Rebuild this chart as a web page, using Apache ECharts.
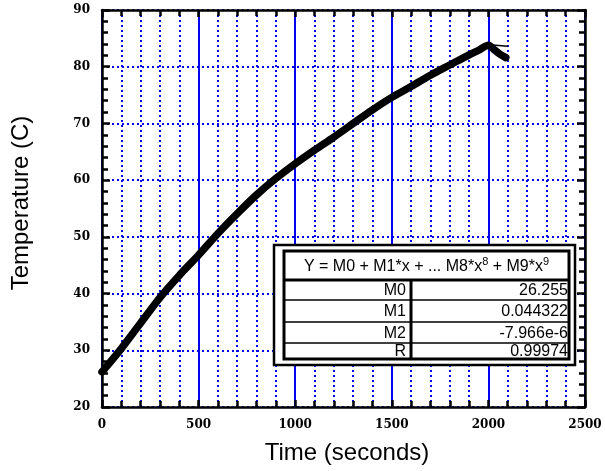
<!DOCTYPE html>
<html><head><meta charset="utf-8">
<script src="https://cdn.jsdelivr.net/npm/echarts@6/dist/echarts.min.js"></script>
<style>html,body{margin:0;padding:0;background:#fff}#c{width:605px;height:471px}</style>
</head><body><div id="c"></div>
<script>
const timeS = [0,100,200,300,400,500,600,700,800,900,1000,1100,1200,1300,1400,1500,1600,1700,1800,1900,1950,2000,2030,2060,2090];
const tempC = [26.2,30.3,34.8,39.3,43.2,46.8,50.6,54.1,57.4,60.3,62.9,65.3,67.6,70.0,72.4,74.6,76.5,78.5,80.3,82.1,82.9,83.8,83.0,82.2,81.6];
const fitTime = [1990,2100];
const fitTemp = [83.9,83.6];
const xTicks = [0,500,1000,1500,2000,2500];
const yTicks = [20,30,40,50,60,70,80,90];
const tableTitle = 'Y = M0 + M1*x + ... M8*x{s|8} + M9*x{s|9}';
const rowNames = ['M0','M1','M2','R'];
const rowValues = ['26.255','0.044322','-7.966e-6','0.99974'];

const chart = echarts.init(document.getElementById('c'));
const blue = '#0000f0';
const tickFont = {fontFamily:'DejaVu Serif', fontWeight:'bold', fontSize:12, color:'#000'};
function xAx(pos, labels){
  return {type:'value', position:pos, min:xTicks[0], max:xTicks[xTicks.length-1], interval:500,
    axisLine:{show:true, onZero:false, lineStyle:{color:'#000', width:2.5}},
    axisTick:{show:true, inside:true, length:7, lineStyle:{color:'#000', width:2.5}},
    minorTick:{show:true, splitNumber:5, length:6, lineStyle:{color:'#000', width:2.5}},
    axisLabel:Object.assign({show:labels, margin:12, formatter:v=>String(v)}, tickFont),
    splitLine:{show:labels, lineStyle:{color:blue, width:2}},
    minorSplitLine:{show:labels, lineStyle:{color:blue, width:2, type:[2,3]}}
  };
}
function yAx(pos, labels){
  return {type:'value', position:pos, min:yTicks[0], max:yTicks[yTicks.length-1], interval:10,
    axisLine:{show:true, onZero:false, lineStyle:{color:'#000', width:2.5}},
    axisTick:{show:true, inside:true, length:8, lineStyle:{color:'#000', width:2.5}},
    minorTick:{show:true, splitNumber:5, length:6, lineStyle:{color:'#000', width:2.5}},
    axisLabel:Object.assign({show:labels, margin:12, formatter:v=>String(v)}, tickFont),
    splitLine:{show:labels, lineStyle:{color:blue, width:2, type:[2,3]}},
    minorSplitLine:{show:false}
  };
}
const tx=274, ty=245, tw=301, th=120;
const g = [];
g.push({type:'rect', shape:{x:tx, y:ty, width:tw, height:th}, style:{fill:'#fff', stroke:'#000', lineWidth:2.5}, z:100});
g.push({type:'rect', shape:{x:tx+10, y:ty+6, width:tw-16, height:th-12}, style:{fill:'#fff', stroke:'#000', lineWidth:3}, z:101});
const rowY = [280,300,322,343,359];
g.push({type:'line', shape:{x1:tx+10, y1:rowY[0], x2:tx+tw-6, y2:rowY[0]}, style:{stroke:'#000', lineWidth:3}, z:102});
for (let i=1;i<4;i++) g.push({type:'line', shape:{x1:tx+10, y1:rowY[i], x2:tx+tw-6, y2:rowY[i]}, style:{stroke:'#000', lineWidth:1.5}, z:102});
g.push({type:'line', shape:{x1:411, y1:rowY[0], x2:411, y2:rowY[4]}, style:{stroke:'#000', lineWidth:3}, z:102});
g.push({type:'text', x:(tx+10+tx+tw-6)/2, y:267, z:103, style:{text:tableTitle, align:'center', verticalAlign:'middle', font:'16px "Liberation Sans"', fill:'#000',
  rich:{s:{fontSize:11, fontFamily:'Liberation Sans', padding:[0,0,10,0], fill:'#000'}}}});
for (let i=0;i<4;i++){
  const cy=(rowY[i]+rowY[i+1])/2+1;
  g.push({type:'text', x:406, y:cy, z:103, style:{text:rowNames[i], align:'right', verticalAlign:'middle', font:'16px "Liberation Sans"', fill:'#000'}});
  g.push({type:'text', x:568, y:cy, z:103, style:{text:rowValues[i], align:'right', verticalAlign:'middle', font:'16px "Liberation Sans"', fill:'#000'}});
}
g.push({type:'text', x:21, y:203, rotation:Math.PI/2, z:103, style:{text:'Temperature (C)', align:'center', verticalAlign:'middle', font:'24px "Liberation Sans"', fill:'#000'}});
g.push({type:'text', x:347, y:453, z:103, style:{text:'Time (seconds)', align:'center', verticalAlign:'middle', font:'24px "Liberation Sans"', fill:'#000'}});

chart.setOption({
  animation:false,
  grid:{left:102, right:20, top:10, bottom:64},
  xAxis:[xAx('bottom', true), xAx('top', false)],
  yAxis:[yAx('left', true), yAx('right', false)],
  graphic:g,
  series:[
    {type:'line', xAxisIndex:0, yAxisIndex:0, data:timeS.map((t,i)=>[t,tempC[i]]), showSymbol:false, smooth:0.3,
     lineStyle:{color:'#000', width:7.5, cap:'round', join:'round'}, z:10},
    {type:'line', xAxisIndex:0, yAxisIndex:0, data:fitTime.map((t,i)=>[t,fitTemp[i]]), showSymbol:false,
     lineStyle:{color:'#000', width:1.5}, z:11}
  ]
});
</script></body></html>
